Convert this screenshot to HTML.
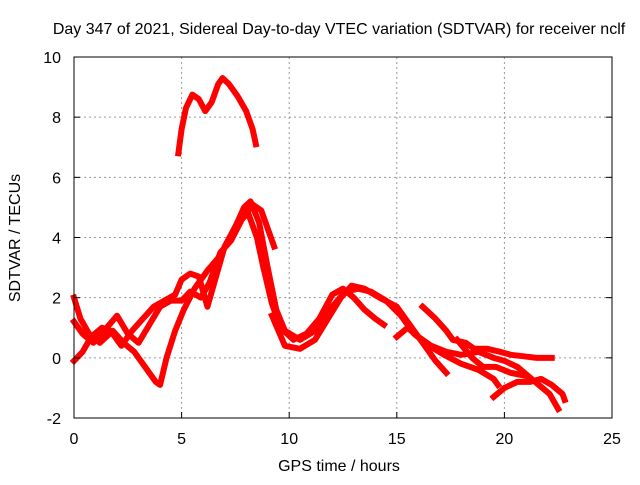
<!DOCTYPE html>
<html><head><meta charset="utf-8"><style>
html,body{margin:0;padding:0;background:#fff}
svg text{font-family:"Liberation Sans",sans-serif;font-size:16px;fill:#000}
</style></head><body>
<svg id="chart" width="640" height="480" xmlns="http://www.w3.org/2000/svg">
<rect width="640" height="480" fill="#fff"/>
<text x="339" y="34" text-anchor="middle">Day 347 of 2021, Sidereal Day-to-day VTEC variation (SDTVAR) for receiver nclf</text>
<g id="grid"></g>
<g id="series"></g>
<rect x="74" y="57" width="538" height="361" fill="none" stroke="#000" stroke-width="1"/>
<g id="ticks"></g>
<text x="339" y="471" text-anchor="middle">GPS time / hours</text>
<text transform="translate(20,238) rotate(-90)" text-anchor="middle">SDTVAR / TECUs</text>
</svg>
<script>
const xTicks=[0,5,10,15,20,25];
const yTicks=[-2,0,2,4,6,8,10];
const s1x=[4.85,5.0,5.2,5.5,5.8,6.1,6.4,6.7,6.9,7.2,7.6,8.0,8.3,8.45];
const s1y=[6.8,7.6,8.3,8.75,8.6,8.2,8.5,9.1,9.3,9.1,8.7,8.2,7.6,7.1];
const s2x=[0,0.3,0.7,1.2,1.8,2.3,2.8,3.3,3.8,4.0,4.3,4.7,5.1,5.6,6.2,6.8,7.4,7.9,8.2,8.6,9.0,9.4,9.8,10.5,11.2,12.0,12.6,13.2,13.8,14.5,15.2,15.8,16.5,17.2,18.0,18.8,19.5,19.7];
const s2y=[2.0,1.3,0.8,0.5,0.9,0.5,0.2,-0.3,-0.8,-0.9,0,0.9,1.6,2.3,2.9,3.4,4.2,5.0,5.2,4.5,3.0,1.6,0.9,0.6,0.9,1.7,2.2,2.3,2.2,1.9,1.4,0.8,0.4,0.1,-0.2,-0.4,-0.7,-0.9];
const s3x=[0,0.4,0.9,1.4,2.0,2.5,3.0,3.5,4.0,4.5,5.0,5.4,5.9,6.3,6.8,7.3,7.8,8.3,8.7,9.0,9.3];
const s3y=[1.2,0.8,0.5,0.9,1.4,0.8,0.5,1.1,1.7,1.9,1.9,2.2,2.0,2.5,3.5,3.9,4.6,5.1,4.9,4.3,3.7];
const s4x=[0,0.4,0.8,1.3,1.7,2.2,2.7,3.2,3.7,4.2,4.7,5.0,5.4,5.8,6.2,6.6,7.0,7.6,8.1,8.5,8.8,9.2,9.6,10.2,10.8,11.4,12.0,12.5,13.0,13.5,14.0,14.4];
const s4y=[-0.1,0.2,0.7,1.0,0.9,0.4,0.9,1.3,1.7,1.9,2.1,2.6,2.8,2.7,1.7,2.7,3.7,4.5,4.8,4.0,3.0,1.8,1.0,0.6,0.8,1.3,2.1,2.3,2.0,1.6,1.3,1.1];
const s5x=[9.2,9.8,10.5,11.2,11.8,12.4,12.9,13.5,14.2,15.0,15.6,16.2,16.8,17.3];
const s5y=[1.4,0.4,0.3,0.6,1.3,2.0,2.4,2.3,2.0,1.7,1.1,0.5,-0.1,-0.5];
const s6x=[15.0,15.5,16.0,16.6,17.3,18.0,18.8,19.5,20.0,20.6,21.1,21.6,22.1,22.5];
const s6y=[0.7,1.0,0.7,0.4,0.2,0.1,0.2,0.0,-0.1,-0.3,-0.6,-0.9,-1.2,-1.7];
const s7x=[16.2,16.8,17.3,17.6,18.2,18.6,19.2,19.8,20.3,20.9,21.5,22.2];
const s7y=[1.7,1.3,0.9,0.6,0.5,0.3,0.3,0.2,0.1,0.05,0.0,0.0];
const s8x=[19.5,20.0,20.6,21.2,21.7,22.2,22.7,22.8];
const s8y=[-1.3,-1.0,-0.8,-0.8,-0.7,-0.9,-1.2,-1.4];
const s9x=[17.8,18.5,19.0,19.6,20.3,21.0];
const s9y=[0.6,0.0,-0.3,-0.3,-0.5,-0.6];
const seriesX=[s1x,s2x,s3x,s4x,s5x,s6x,s7x,s8x,s9x];
const seriesY=[s1y,s2y,s3y,s4y,s5y,s6y,s7y,s8y,s9y];
const NS="http://www.w3.org/2000/svg";
const X=v=>74+v*538/25;
const Y=v=>418-(v+2)*361/12;
const grid=document.getElementById('grid'),ticks=document.getElementById('ticks'),ser=document.getElementById('series');
function mk(t,a){const e=document.createElementNS(NS,t);for(const k in a)e.setAttribute(k,a[k]);return e;}
xTicks.forEach(v=>{
 if(v>0&&v<25){const g=mk('line',{x1:X(v),x2:X(v),y1:57,y2:418,stroke:'#999','stroke-dasharray':'2,3'});
 
 grid.appendChild(g);}
 const tk=mk('line',{x1:X(v),x2:X(v),y1:418,y2:412,stroke:'#000'});
 
 ticks.appendChild(tk);
 const t=mk('text',{x:X(v),y:444,'text-anchor':'middle'});t.textContent=v;
 
 ticks.appendChild(t);
});
yTicks.forEach(v=>{
 if(v>-2&&v<10){const g=mk('line',{x1:74,x2:612,y1:Y(v),y2:Y(v),stroke:'#999','stroke-dasharray':'2,3'});
 
 grid.appendChild(g);}
 const tk=mk('line',{x1:74,x2:80,y1:Y(v),y2:Y(v),stroke:'#000'});
 
 ticks.appendChild(tk);
 const tk2=mk('line',{x1:606,x2:612,y1:Y(v),y2:Y(v),stroke:'#000'});
 
 ticks.appendChild(tk2);
 const t=mk('text',{x:61,y:Y(v)+6,'text-anchor':'end'});t.textContent=v;
 
 ticks.appendChild(t);
});
seriesX.forEach((xs,i)=>{
 const ys=seriesY[i];
 const pts=xs.map((x,j)=>X(x)+','+Y(ys[j])).join(' ');
 const p=mk('polyline',{points:pts,fill:'none',stroke:'#f00','stroke-width':6,'stroke-linejoin':'round','stroke-linecap':'square'});
 
 
 ser.appendChild(p);
});
</script>
</body></html>
